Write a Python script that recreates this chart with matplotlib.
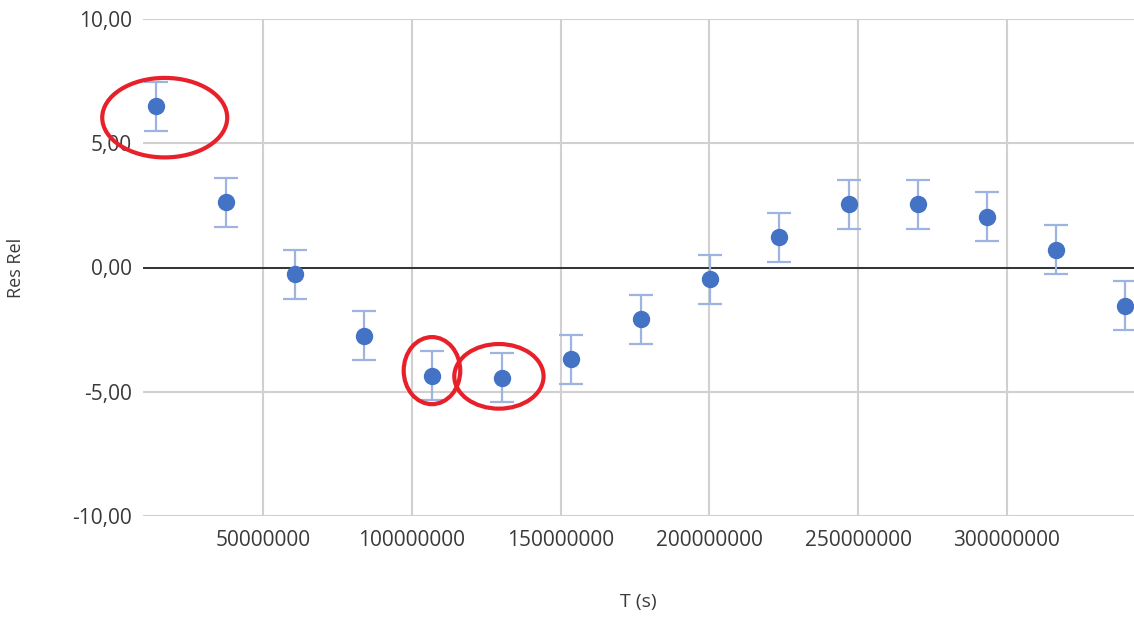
import matplotlib.pyplot as plt
from matplotlib.patches import Ellipse
from matplotlib.ticker import FuncFormatter

# Residual data
T = [14.0e6, 37.6e6, 60.8e6, 83.9e6, 106.8e6, 130.3e6, 153.5e6, 177.0e6,
     200.2e6, 223.4e6, 246.9e6, 270.1e6, 293.3e6, 316.5e6, 339.7e6]
res = [6.48, 2.62, -0.28, -2.74, -4.35, -4.43, -3.70, -2.09,
       -0.48, 1.21, 2.54, 2.54, 2.05, 0.72, -1.53]
err = [1.0] * len(T)

# points circled in red on the original
circled = [0, 4, 5]

plt.rcParams['font.family'] = ['Open Sans', 'DejaVu Sans']

fig = plt.figure(figsize=(11.34, 6.17), dpi=100)
ax = fig.add_axes([143/1134, 1 - 516/617, 1 - 143/1134, (516 - 19)/617])

ax.errorbar(T, res, yerr=err, fmt='o', color='#4472C4', ms=11.5,
            ecolor='#9DB3E0', elinewidth=1.6, capsize=8.5, capthick=1.6,
            zorder=3, clip_on=False)

ax.axhline(0, color='#262626', lw=1.3, zorder=2)

ax.set_xlim(9.7e6, 342.7e6)
ax.set_ylim(-10, 10)
ax.set_xticks([50e6, 100e6, 150e6, 200e6, 250e6, 300e6])
ax.set_yticks([-10, -5, 0, 5, 10])
ax.xaxis.set_major_formatter(FuncFormatter(lambda v, p: '%d' % v))
ax.yaxis.set_major_formatter(FuncFormatter(lambda v, p: ('%.2f' % v).replace('.', ',')))
ax.grid(True, color='#D0D0D0', lw=1.5, zorder=0)
ax.set_axisbelow(True)
for s in ax.spines.values():
    s.set_visible(False)
ax.tick_params(length=0, labelsize=15, colors='#3A3A3A', pad=8)
ax.tick_params(axis='x', pad=10)

ax.set_xlabel('T (s)', fontsize=14, color='#3A3A3A', labelpad=30)
ax.set_ylabel('Res Rel', fontsize=13, color='#3A3A3A', labelpad=34)

# red hand-drawn circles
sizes = {0: (42e6, 3.2, 3e6, -0.45), 4: (19e6, 2.7, 0, 0.2), 5: (30e6, 2.6, -1e6, 0.05)}
for i in circled:
    w, h, dx, dy = sizes[i]
    ax.add_patch(Ellipse((T[i] + dx, res[i] + dy), w, h, fill=False,
                         ec='#E8202A', lw=3, zorder=4, clip_on=False))

fig.savefig('out.png', dpi=100)
